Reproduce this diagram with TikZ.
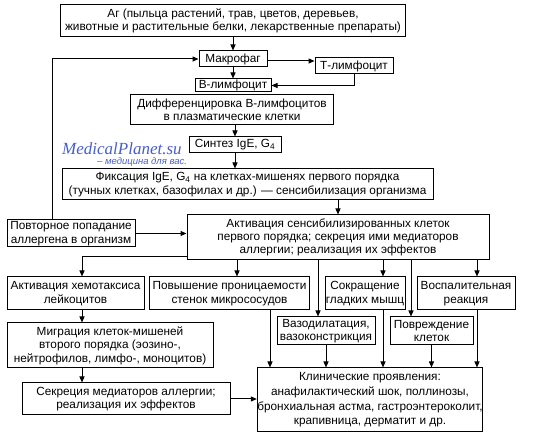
\documentclass[tikz,border=0pt]{standalone}
\usepackage{fontspec}
\setmainfont{Liberation Sans}
\newfontfamily\wmserif{Liberation Serif}
\usetikzlibrary{arrows.meta,calc}
\definecolor{wmblue}{RGB}{70,95,200}
\tikzset{
  box/.style={draw, line width=1pt, align=center, inner sep=0pt,
    font=\fontsize{11.8}{13.4}\selectfont},
  arr/.style={line width=1pt, -{Triangle[length=6pt,width=5pt]}},
}
\begin{document}
\begin{tikzpicture}[x=1pt,y=-1pt]
\useasboundingbox (0,0) rectangle (550,435);
% nodes
\node[box, minimum width=345pt, minimum height=32pt] (ag) at (233,21)
  {Аг (пыльца растений, трав, цветов, деревьев,\\животные и растительные белки, лекарственные препараты)};
\node[box, minimum width=68pt, minimum height=16pt] (mak) at (233,59) {Макрофаг};
\node[box, minimum width=78pt, minimum height=16pt] (tl) at (354,66) {Т-лимфоцит};
\node[box, minimum width=76pt, minimum height=13pt] (bl) at (233,85.5) {В-лимфоцит};
\node[box, minimum width=203pt, minimum height=30pt] (dif) at (232,110)
  {Дифференцировка В-лимфоцитов\\в плазматические клетки};
\node[box, minimum width=92pt, minimum height=16pt] (sin) at (235,145) {Синтез IgE, G\textsubscript{4}};
\node[box, minimum width=371pt, minimum height=31pt] (fix) at (247.5,184.5)
  {Фиксация IgE, G\textsubscript{4} на клетках-мишенях первого порядка\\(тучных клетках, базофилах и др.) — сенсибилизация организма};
\node[box, minimum width=128pt, minimum height=27pt] (pov) at (71,233.5)
  {Повторное попадание\\аллергена в организм};
\node[box, minimum width=302pt, minimum height=45pt] (akt) at (338,237.5)
  {Активация сенсибилизированных клеток\\первого порядка; секреция ими медиаторов\\аллергии; реализация их эффектов};
\node[box, minimum width=137pt, minimum height=33pt] (hem) at (75.5,293.5)
  {Активация хемотаксиса\\лейкоцитов};
\node[box, minimum width=160pt, minimum height=33pt] (pro) at (229.5,293.5)
  {Повышение проницаемости\\стенок микрососудов};
\node[box, minimum width=80pt, minimum height=33pt] (sok) at (365,293.5)
  {Сокращение\\гладких мышц};
\node[box, minimum width=98pt, minimum height=33pt] (vos) at (466,293.5)
  {Воспалительная\\реакция};
\node[box, minimum width=98pt, minimum height=28pt] (vaz) at (326,331)
  {Вазодилатация,\\вазоконстрикция};
\node[box, minimum width=83pt, minimum height=28pt] (pvr) at (431.5,331)
  {Повреждение\\клеток};
\node[box, minimum width=206pt, minimum height=45pt] (mig) at (110,345.5)
  {Миграция клеток-мишеней\\второго порядка (эозино-,\\нейтрофилов, лимфо-, моноцитов)};
\node[box, minimum width=208pt, minimum height=32pt] (sek) at (126,399)
  {Секреция медиаторов аллергии;\\реализация их эффектов};
\node[box, minimum width=224pt, minimum height=64pt, font=\fontsize{11.8}{14.6}\selectfont] (kli) at (370,400)
  {Клинические проявления:\\анафилактический шок, поллинозы,\\бронхиальная астма, гастроэнтероколит,\\крапивница, дерматит и др.};
% watermark
\node[anchor=base west, inner sep=0pt, text=wmblue, font=\wmserif\itshape\fontsize{17}{17}\selectfont] (wm1) at (62,155) {MedicalPlanet.su};
\node[anchor=base west, inner sep=0pt, text=wmblue, font=\itshape\fontsize{9.5}{10}\selectfont] (wm2) at (97,165) {– медицина для вас.};
% helper coordinates
\coordinate (xl) at (52,0);
\coordinate (x82) at (82,0);
\coordinate (x237) at (237,0);
\coordinate (x270) at (270,0);
\coordinate (x318) at (318,0);
\coordinate (x383) at (383,0);
\coordinate (x411) at (411,0);
\coordinate (x477) at (477,0);
% connectors
\draw[arr] (ag.south) -- (mak.north);
\draw[arr] ([yshift=-2pt]mak.east) -- ([yshift=-2pt]mak.east -| tl.west);
\draw[arr] (mak.south) -- (bl.north);
\draw[arr] (tl.south) |- (bl.east);
\draw[arr] (dif.south -| sin.north) -- (sin.north);
\draw[arr] (sin.south) -- (sin.south |- fix.north);
\draw[arr] (fix.south -| akt.north) -- (akt.north);
\draw[arr] (pov.east) -- (pov.east -| akt.west);
\draw[arr] (pov.north -| xl) |- (mak.west);
\coordinate (aw) at ([yshift=4pt]akt.south west);
\draw[arr] (aw) -| (hem.north -| x82);
\draw[arr] (akt.south -| x237) -- (pro.north -| x237);
\draw[arr] (akt.south -| x383) -- (sok.north -| x383);
\draw[arr] (akt.south -| x477) -- (vos.north -| x477);
\draw[arr] (akt.south -| x318) -- (vaz.north -| x318);
\draw[arr] (akt.south -| x411) -- (pvr.north -| x411);
\draw[arr] (hem.south -| x82) -- (mig.north -| x82);
\draw[arr] (mig.south -| x82) -- (sek.north -| x82);
\draw[arr] (sek.east) -- (sek.east -| kli.west);
\draw[arr] (pro.south -| x270) -- (kli.north -| x270);
\draw[arr] (vaz.south) -- (vaz.south |- kli.north);
\draw[arr] (sok.south -| x383) -- (kli.north -| x383);
\draw[arr] (pvr.south) -- (pvr.south |- kli.north);
\draw[arr] (vos.south -| x477) -- (kli.north -| x477);
\end{tikzpicture}
\end{document}
